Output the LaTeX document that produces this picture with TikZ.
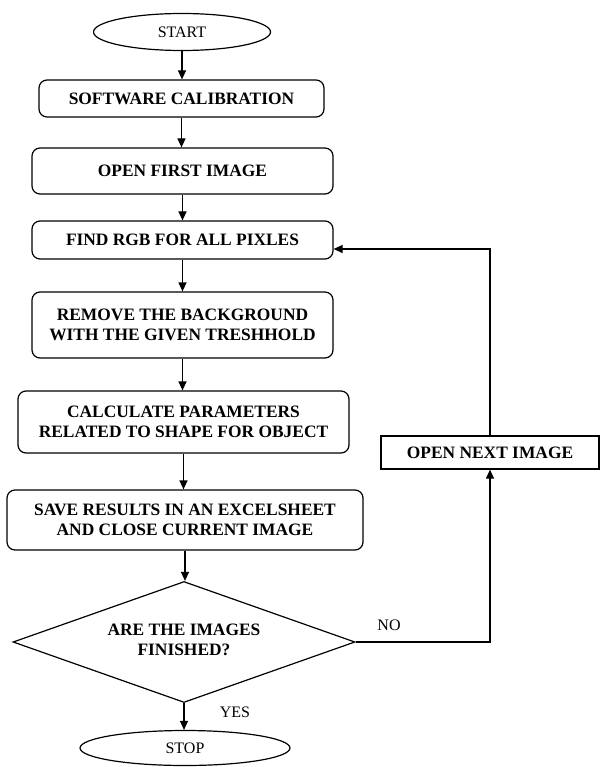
\documentclass[tikz,border=0pt]{standalone}
\usepackage{fontspec}
\setmainfont{Liberation Serif}
\usetikzlibrary{shapes.geometric,arrows.meta}
\begin{document}
\begin{tikzpicture}[x=1pt,y=-1pt,
  line width=1.2pt,
  box/.style={draw,rounded corners=8pt,inner sep=0pt,align=center,font=\fontsize{17.4}{20}\selectfont\bfseries},
  sbox/.style={draw,inner sep=0pt,align=center,font=\fontsize{17.4}{20}\selectfont\bfseries},
  term/.style={draw,ellipse,inner sep=0pt,font=\fontsize{16}{18}\selectfont},
  decis/.style={draw,diamond,inner sep=0pt,align=center,shape aspect=2.83,font=\fontsize{17.4}{20}\selectfont\bfseries},
  lbl/.style={inner sep=0pt,font=\fontsize{16}{18}\selectfont},
  arr/.style={-{Triangle[length=9pt,width=8pt]}}]
\useasboundingbox (0,0) rectangle (600,767);
\node[term,minimum width=177pt,minimum height=37pt] (start) at (182,32) {START};
\node[box,minimum width=285pt,minimum height=37pt] (cal) at (181.5,98.5) {SOFTWARE CALIBRATION};
\node[box,minimum width=301pt,minimum height=46pt] (first) at (182.5,171) {OPEN FIRST IMAGE};
\node[box,minimum width=301pt,minimum height=38pt] (rgb) at (182.5,240) {FIND RGB FOR ALL PIXLES};
\node[box,minimum width=301pt,minimum height=66pt] (rem) at (182.5,325) {REMOVE THE BACKGROUND\\WITH THE GIVEN TRESHHOLD};
\node[box,minimum width=331pt,minimum height=62pt] (calc) at (183.5,422) {CALCULATE PARAMETERS\\RELATED TO SHAPE FOR OBJECT};
\node[box,minimum width=356pt,minimum height=60pt] (save) at (185,520) {SAVE RESULTS IN AN EXCELSHEET\\AND CLOSE CURRENT IMAGE};
\node[decis,minimum width=342pt,minimum height=121pt] (dec) at (184,642) {\raisebox{4pt}{ARE THE IMAGES}\\\raisebox{4pt}{FINISHED?}};
\node[term,minimum width=210pt,minimum height=35pt] (stop) at (185,748) {STOP};
\node[sbox,minimum width=218pt,minimum height=33pt] (next) at (490,452.5) {OPEN NEXT IMAGE};
\node[lbl] (no) at (389,625) {NO};
\node[lbl] (yes) at (235,712) {YES};
\draw[arr] (start.south) -- (start.south |- cal.north);
\draw[arr] (cal.south) -- (cal.south |- first.north);
\draw[arr] (first.south) -- (first.south |- rgb.north);
\draw[arr] (rgb.south) -- (rgb.south |- rem.north);
\draw[arr] (rem.south) -- (rem.south |- calc.north);
\draw[arr] (calc.south) -- (calc.south |- save.north);
\draw[arr] (save.south) -- (save.south |- dec.north);
\draw[arr] (dec.south) -- (dec.south |- stop.north);
\draw[arr] (dec.east) -| (next.south);
\draw[arr] (next.north) |- ([yshift=-9pt]rgb.east);
\end{tikzpicture}
\end{document}
